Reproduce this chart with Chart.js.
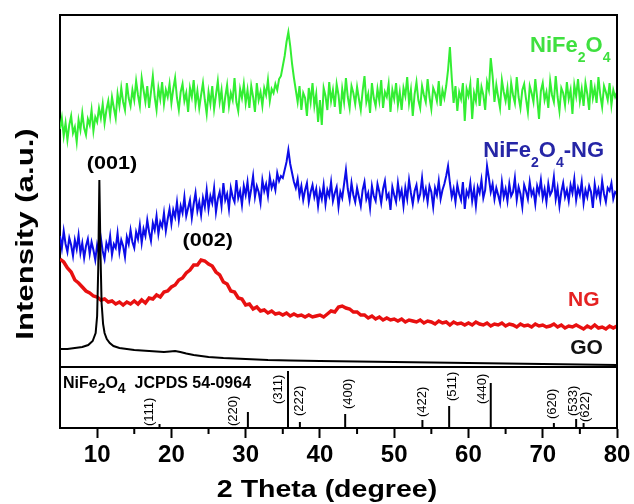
<!DOCTYPE html>
<html>
<head>
<meta charset="utf-8">
<script src="https://cdn.jsdelivr.net/npm/chart.js@4.4.1/dist/chart.umd.min.js"></script>
<style>
  body { margin: 0; background: #fff; }
</style>
</head>
<body>
<canvas id="grafico" width="634" height="504"></canvas>
<script>
// eje x en 2 theta (grados), intensidad en unidades arbitrarias
let ticksX = [10, 20, 30, 40, 50, 60, 70, 80];
let ticksMenores = [15, 25, 35, 45, 55, 65, 75];

// NiFe2O4 (verde), paso 0.25 desde 5
let inicioVerde = 5, pasoVerde = 0.25;
let verde = [
  299, 310, 292, 305, 288, 303, 312, 295, 301, 286, 308, 298, 315, 300, 293, 309, 303, 318, 297, 311,
  306, 320, 310, 324, 305, 318, 327, 312, 331, 320, 310, 334, 322, 340, 326, 318, 345, 330, 322, 338,
  328, 347, 333, 322, 350, 338, 326, 342, 320, 336, 352, 331, 318, 340, 329, 346, 324, 338, 331, 344,
  325, 339, 350, 330, 318, 336, 344, 327, 335, 316, 340, 331, 348, 324, 337, 320, 333, 345, 328, 314,
  336, 324, 342, 319, 333, 347, 326, 338, 315, 331, 343, 322, 335, 328, 350, 326, 317, 339, 330, 344,
  325, 338, 320, 342, 331, 316, 345, 328, 336, 322, 340, 333, 348, 327, 339, 335, 344, 338, 349, 352,
  362, 372, 386, 396, 382, 364, 350, 338, 326, 342, 318, 335, 330, 312, 340, 326, 345, 322, 334, 306,
  328, 303, 340, 332, 318, 346, 327, 338, 321, 344, 333, 314, 339, 326, 350, 331, 320, 342, 335, 324,
  341, 329, 318, 337, 352, 326, 334, 315, 345, 330, 322, 339, 327, 348, 320, 336, 331, 344, 316, 338,
  329, 345, 323, 336, 318, 340, 332, 351, 325, 338, 312, 334, 346, 328, 320, 342, 333, 326, 349, 331,
  319, 340, 335, 327, 347, 322, 338, 330, 342, 358, 381, 350, 325, 342, 317, 336, 329, 345, 307, 339,
  332, 344, 309, 335, 327, 350, 322, 341, 333, 318, 346, 338, 370, 352, 326, 343, 331, 320, 348, 336,
  327, 340, 318, 345, 333, 325, 351, 331, 320, 338, 344, 329, 316, 342, 335, 326, 349, 330, 309, 337,
  345, 328, 336, 320, 347, 333, 326, 352, 331, 317, 340, 335, 323, 346, 329, 338, 314, 343, 332, 349,
  327, 339, 322, 345, 334, 318, 348, 330, 340, 325, 351, 333, 321, 342, 336, 328, 345, 323, 338, 331, 336
];

// NiFe2O4-NG (azul), paso 0.25 desde 5
let inicioAzul = 5, pasoAzul = 0.25;
let azul = [
  192, 180, 197, 184, 176, 190, 183, 172, 188, 179, 193, 175, 185, 170, 182, 189, 174, 186, 178, 168,
  183, 174, 190, 177, 169, 185, 179, 192, 173, 184, 180, 195, 176, 188, 182, 171, 191, 184, 198, 186,
  180, 196, 189, 203, 185, 199, 192, 208, 196, 187, 205, 198, 212, 194, 206, 201, 215, 197, 209, 219,
  204, 218, 211, 226, 208, 222, 215, 231, 212, 220, 228, 210, 224, 235, 217, 226, 213, 230, 221, 238,
  219, 232, 225, 240, 216, 229, 236, 222, 245, 228, 234, 219, 240, 231, 226, 248, 230, 237, 223, 242,
  233, 246, 228, 239, 252, 231, 242, 236, 225, 248, 237, 244, 232, 251, 240, 246, 238, 255, 247, 252,
  250, 258, 266, 278, 264, 255, 246, 240, 249, 233, 242, 228, 238, 245, 226, 236, 243, 231, 239, 222,
  237, 229, 243, 224, 238, 232, 246, 227, 235, 241, 221, 236, 230, 244, 258, 239, 228, 245, 233, 226,
  240, 231, 222, 238, 246, 229, 235, 220, 242, 232, 227, 244, 236, 225, 239, 247, 230, 234, 218, 241,
  233, 226, 245, 231, 238, 222, 240, 229, 248, 235, 224, 237, 243, 228, 234, 250, 231, 239, 226, 242,
  236, 221, 240, 233, 247, 229, 238, 244, 252, 262, 245, 231, 239, 226, 243, 234, 228, 246, 219, 237,
  232, 245, 227, 239, 222, 241, 235, 248, 230, 238, 262, 250, 236, 244, 229, 240, 233, 225, 246, 231,
  239, 227, 244, 232, 236, 250, 228, 241, 234, 221, 243, 237, 229, 246, 233, 238, 224, 242, 235, 248,
  230, 239, 226, 244, 233, 237, 251, 229, 240, 222, 236, 245, 231, 238, 227, 243, 235, 249, 228, 240,
  233, 246, 225, 238, 231, 242, 236, 220, 244, 232, 239, 228, 247, 234, 226, 240, 237, 245, 229, 236, 234
];

// NG (rojo), paso 0.5 desde 5
let inicioRojo = 5, pasoRojo = 0.5;
let rojo = [
  169, 166, 160, 156, 148, 145, 141, 137, 135, 132,
  131, 128, 129, 126, 127, 124, 126, 123, 126, 124,
  127, 124, 128, 125, 130, 129, 133, 131, 136, 137,
  141, 143, 148, 150, 155, 158, 163, 163, 168, 167,
  164, 162, 156, 153, 146, 144, 137, 136, 130, 129,
  123, 124, 119, 121, 117, 118, 115, 117, 114, 115,
  113, 115, 112, 114, 112, 113, 111, 113, 111, 112,
  113, 111, 114, 117, 116, 121, 122, 120, 119, 116,
  116, 113, 113, 110, 112, 109, 111, 108, 110, 108,
  109, 107, 109, 106, 108, 107, 106, 108, 105, 107,
  106, 104, 107, 105, 106, 103, 106, 104, 105, 103,
  105, 103, 106, 104, 103, 105, 102, 104, 103, 105,
  102, 104, 103, 101, 104, 102, 103, 101, 104, 102,
  103, 101, 102, 104, 101, 103, 100, 102, 101, 103,
  101, 99, 102, 100, 103, 100, 101, 99, 102, 100, 102
];

// GO (negro)
let goX = [5, 6, 7, 8, 8.8, 9.4, 9.8, 10.0, 10.15, 10.3, 10.45, 10.6, 10.8, 11.0, 11.3, 11.7, 12.2, 13, 14, 15,
  16, 17, 18, 19, 19.8, 20.5, 21.2, 22, 23, 24, 25, 27, 30, 33, 36, 40, 45, 50, 55, 60, 65, 70, 75, 80];
let goY = [79, 79, 80, 81, 83, 87, 95, 112, 160, 248, 175, 125, 104, 95, 89, 85, 82, 80, 79, 78,
  77.5, 77, 76.5, 76, 76.5, 77, 76, 74.5, 73, 72, 71, 70, 69, 68, 67.5, 67, 66.5, 66, 65.5, 65, 64.5, 64, 63.5, 63];

// patron de referencia JCPDS 54-0964
let angulosRef = [18.4, 30.3, 35.7, 37.3, 43.4, 53.8, 57.4, 63.0, 71.5, 74.5, 75.5];
let intensRef = [4, 16, 57, 6, 14, 8, 22, 45, 5, 9, 5];
let planosRef = ["(111)", "(220)", "(311)", "(222)", "(400)", "(422)", "(511)", "(440)", "(620)", "(533)", "(622)"];
let separador = 61;

function puntos(inicio, paso, valores) {
  return valores.map((v, i) => ({ x: inicio + i * paso, y: v }));
}

let barras = [];
for (let i = 0; i < angulosRef.length; i++) {
  barras.push({ x: angulosRef[i], y: 0 }, { x: angulosRef[i], y: intensRef[i] }, { x: angulosRef[i], y: null });
}

const fuente = "\"Liberation Sans\", Arial, sans-serif";

// texto con subindices, estirado en horizontal
function escribir(ctx, partes, x, y, op) {
  ctx.save();
  ctx.fillStyle = op.color;
  ctx.textBaseline = "alphabetic";
  ctx.textAlign = "left";
  let anchos = [];
  let total = 0;
  partes.forEach(([t, sub]) => {
    ctx.font = `bold ${sub ? op.sub : op.tam}px ${fuente}`;
    let w = ctx.measureText(t).width;
    anchos.push(w);
    total += w;
  });
  ctx.translate(x, y);
  ctx.scale(op.estirar || 1, 1);
  let cx = op.centro ? -total / 2 : 0;
  partes.forEach(([t, sub], i) => {
    ctx.font = `bold ${sub ? op.sub : op.tam}px ${fuente}`;
    ctx.fillText(t, cx, sub ? op.baja : 0);
    cx += anchos[i];
  });
  ctx.restore();
}

// desplazamiento de cada etiqueta hkl respecto a su barra [dx, hueco] en px
const posEtiquetas = [[-10, -2], [-14, -14], [-10, -33], [0, 6], [3, 5], [0, 3], [3, 5], [-8, -21], [-1, 4], [-3, 3], [2, 1]];

const anotaciones = {
  id: "anotaciones",
  afterDatasetsDraw(chart) {
    const { ctx, chartArea, scales: { x, y } } = chart;
    ctx.save();
    ctx.strokeStyle = "#000";
    ctx.lineWidth = 2;
    ctx.beginPath();
    ctx.moveTo(chartArea.left - 1, chartArea.top);
    ctx.lineTo(chartArea.right, chartArea.top);
    ctx.lineTo(chartArea.right, chartArea.bottom);
    ctx.stroke();

    // ticks menores
    ctx.beginPath();
    ticksMenores.forEach(v => {
      let px = x.getPixelForValue(v);
      ctx.moveTo(px, chartArea.bottom);
      ctx.lineTo(px, chartArea.bottom + 6);
    });
    ctx.stroke();

    // etiquetas hkl giradas
    ctx.fillStyle = "#000";
    ctx.font = `13px ${fuente}`;
    ctx.textBaseline = "middle";
    ctx.textAlign = "left";
    planosRef.forEach((p, i) => {
      let px = x.getPixelForValue(angulosRef[i]) + posEtiquetas[i][0];
      let py = y.getPixelForValue(intensRef[i]) - posEtiquetas[i][1];
      ctx.save();
      ctx.translate(px, py);
      ctx.rotate(-Math.PI / 2);
      ctx.fillText(p, 0, 0);
      ctx.restore();
    });
    ctx.restore();

    escribir(ctx, [["(001)"]], x.getPixelForValue(12.0), y.getPixelForValue(259), { tam: 18, color: "#000", centro: true, estirar: 1.2 });
    escribir(ctx, [["(002)"]], x.getPixelForValue(24.9), y.getPixelForValue(182), { tam: 18, color: "#000", centro: true, estirar: 1.2 });
    escribir(ctx, [["NiFe"], ["2", true], ["O"], ["4", true]], x.getPixelForValue(68.3), y.getPixelForValue(376),
      { tam: 22, sub: 14, baja: 10, color: "#3fe03f" });
    escribir(ctx, [["NiFe"], ["2", true], ["O"], ["4", true], ["-NG"]], x.getPixelForValue(62.0), y.getPixelForValue(271),
      { tam: 22, sub: 14, baja: 10, color: "#2626a6" });
    escribir(ctx, [["NG"]], x.getPixelForValue(73.4), y.getPixelForValue(122), { tam: 21, color: "#e52222" });
    escribir(ctx, [["GO"]], x.getPixelForValue(73.7), y.getPixelForValue(74), { tam: 21, color: "#111" });
    escribir(ctx, [["NiFe"], ["2", true], ["O"], ["4", true], ["  JCPDS 54-0964"]], x.getPixelForValue(5.4), y.getPixelForValue(40),
      { tam: 16, sub: 14, baja: 5, color: "#000" });

    // titulos de ejes
    ctx.save();
    ctx.fillStyle = "#000";
    ctx.font = `bold 23px ${fuente}`;
    ctx.textAlign = "center";
    ctx.textBaseline = "alphabetic";
    ctx.translate(327, 497);
    ctx.scale(1.24, 1);
    ctx.fillText("2 Theta (degree)", 0, 0);
    ctx.restore();

    ctx.save();
    ctx.fillStyle = "#000";
    ctx.font = `bold 24px ${fuente}`;
    ctx.textAlign = "center";
    ctx.textBaseline = "alphabetic";
    ctx.translate(33, 234);
    ctx.rotate(-Math.PI / 2);
    ctx.scale(1.3, 1);
    ctx.fillText("Intensity (a.u.)", 0, 0);
    ctx.restore();
  }
};

let lienzo = document.getElementById("grafico");
let grafico = new Chart(lienzo, {
  type: "line",
  data: {
    datasets: [
      { data: goX.map((v, i) => ({ x: v, y: goY[i] })), borderColor: "#000", borderWidth: 2, order: 0 },
      { data: barras, borderColor: "#000", borderWidth: 2, spanGaps: false, order: 1 },
      { data: [{ x: 5, y: separador }, { x: 80, y: separador }], borderColor: "#000", borderWidth: 2, order: 1 },
      { data: puntos(inicioRojo, pasoRojo, rojo), borderColor: "#e81010", borderWidth: 3.5, order: 2 },
      { data: puntos(inicioAzul, pasoAzul, azul), borderColor: "#0c0ce8", borderWidth: 2, order: 3 },
      { data: puntos(inicioVerde, pasoVerde, verde), borderColor: "#33ee33", borderWidth: 2, order: 4 }
    ]
  },
  options: {
    responsive: false,
    animation: false,
    layout: { padding: { top: 15, right: 17, left: 0, bottom: 0 } },
    plugins: { legend: { display: false }, tooltip: { enabled: false } },
    elements: { point: { radius: 0 }, line: { tension: 0 } },
    scales: {
      x: {
        type: "linear",
        min: 5,
        max: 80,
        afterBuildTicks: s => { s.ticks = ticksX.map(v => ({ value: v })); },
        afterFit: s => { s.height = 76; },
        grid: { drawOnChartArea: false, tickLength: 10, tickWidth: 2, tickColor: "#000" },
        border: { color: "#000", width: 2 },
        ticks: { color: "#000", font: { family: fuente, size: 24, weight: "bold" }, padding: 3, maxRotation: 0, autoSkip: false }
      },
      y: {
        min: 0,
        max: 413,
        afterFit: s => { s.width = 60; },
        grid: { display: false },
        border: { color: "#000", width: 2 },
        ticks: { display: false }
      }
    }
  },
  plugins: [anotaciones]
});
</script>
</body>
</html>
